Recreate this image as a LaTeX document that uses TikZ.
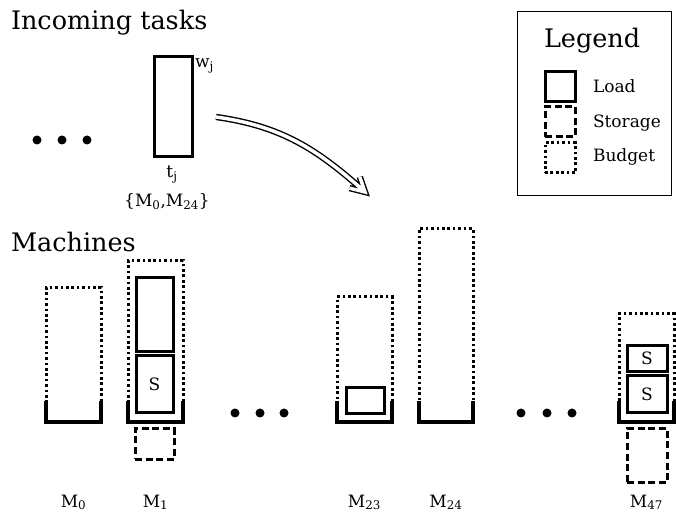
\documentclass[tikz,border=0pt]{standalone}
\usepackage{fontspec}
\setmainfont{DejaVu Serif}

\newcommand{\bigfont}{\fontsize{25.5}{30}\selectfont}
\newcommand{\smallfont}{\fontsize{17}{20}\selectfont}

\begin{document}
\begin{tikzpicture}[x=1pt, y=1pt,
    every node/.style={outer sep=0pt},
    load/.style={draw, line width=3pt, inner sep=0pt, font=\smallfont},
    storage/.style={draw, line width=3pt, dash pattern=on 7pt off 3.5pt, inner sep=0pt},
    budget/.style={draw, line width=3pt, dash pattern=on 2.7pt off 2.7pt, inner sep=0pt},
    base/.style={line width=3.2pt},
    heading/.style={anchor=base west, font=\bigfont, inner sep=0pt},
    lbl/.style={font=\smallfont, inner sep=0pt},
    arrow/.style={double, double distance=3.5pt, line width=1.4pt, line join=miter}]
  \useasboundingbox (0,0) rectangle (676,516);

  % incoming tasks
  \node[heading] (inc) at (11,486) {Incoming tasks};
  \foreach \x in {37,62,87}
    \fill (\x,376) circle (4.5pt);
  \node[load, minimum width=38, minimum height=100] (task) at (173,409) {};
  \node[lbl, anchor=base west] (wj) at (195,448) {w\textsubscript{j}};
  \node[lbl, anchor=base] (tj) at (172,338) {t\textsubscript{j}};
  \node[lbl, anchor=base] (elig) at (167,309) {\{M\textsubscript{0},M\textsubscript{24}\}};
  \coordinate (arrS) at (216,399);
  \coordinate (arrE) at (365,324);
  % shaft and open head in one double path
  \draw[arrow] (arrS) to[out=-8, in=138] (arrE) ++(166:16) -- (arrE) -- ++(109:16);

  % legend
  \node[draw, line width=1pt, minimum width=154, minimum height=184, anchor=north west] (legend) at (517,504) {};
  \node[heading] (legT) at (544,468) {Legend};
  \node[load, minimum size=30] (kLoad) at (560,429) {};
  \node[storage, minimum size=30] (kStor) at (560,394) {};
  \node[budget, minimum size=30] (kBud) at (560,358) {};
  \node[lbl, anchor=base west] (tLoad) at (593,423) {Load};
  \node[lbl, anchor=base west] (tStor) at (593,388) {Storage};
  \node[lbl, anchor=base west] (tBud) at (593,354) {Budget};

  % machines
  \node[heading] (mach) at (11,264) {Machines};
  \foreach \nm/\cx/\bw/\tp in {0/73.5/55/228, 1/155.5/55/255, 23/364.5/55/219, 24/446/54/287, 47/646.5/55/202} {
    \node[budget, minimum width=\bw, minimum height={\tp-94}, anchor=south] (b\nm) at (\cx,94) {};
    \draw[base] ([yshift=21pt]b\nm.south west) -- (b\nm.south west) -- (b\nm.south east) -- ++(0,21);
    \node[lbl, anchor=base] (m\nm) at (\cx,9) {M\textsubscript{\nm}};
  }
  \foreach \x in {235,260,284,521,547,572}
    \fill (\x,103) circle (4.5pt);

  % contents of M1
  \node[load, minimum width=37, minimum height=73.5] (l1a) at (154.5,201.25) {};
  \node[load, minimum width=37, minimum height=57.5] (l1b) at (154.5,131.75) {S};
  \node[storage, minimum width=39, minimum height=30] (s1) at (154.5,72) {};
  % contents of M23
  \node[load, minimum width=38, minimum height=26] (l23) at (365,115) {};
  % contents of M47
  \node[load, minimum width=40, minimum height=25.5] (l47a) at (647,157.25) {S};
  \node[load, minimum width=40, minimum height=37.5] (l47b) at (647,121.75) {S};
  \node[storage, minimum width=40, minimum height=53] (s47) at (647,60.5) {};
\end{tikzpicture}
\end{document}
